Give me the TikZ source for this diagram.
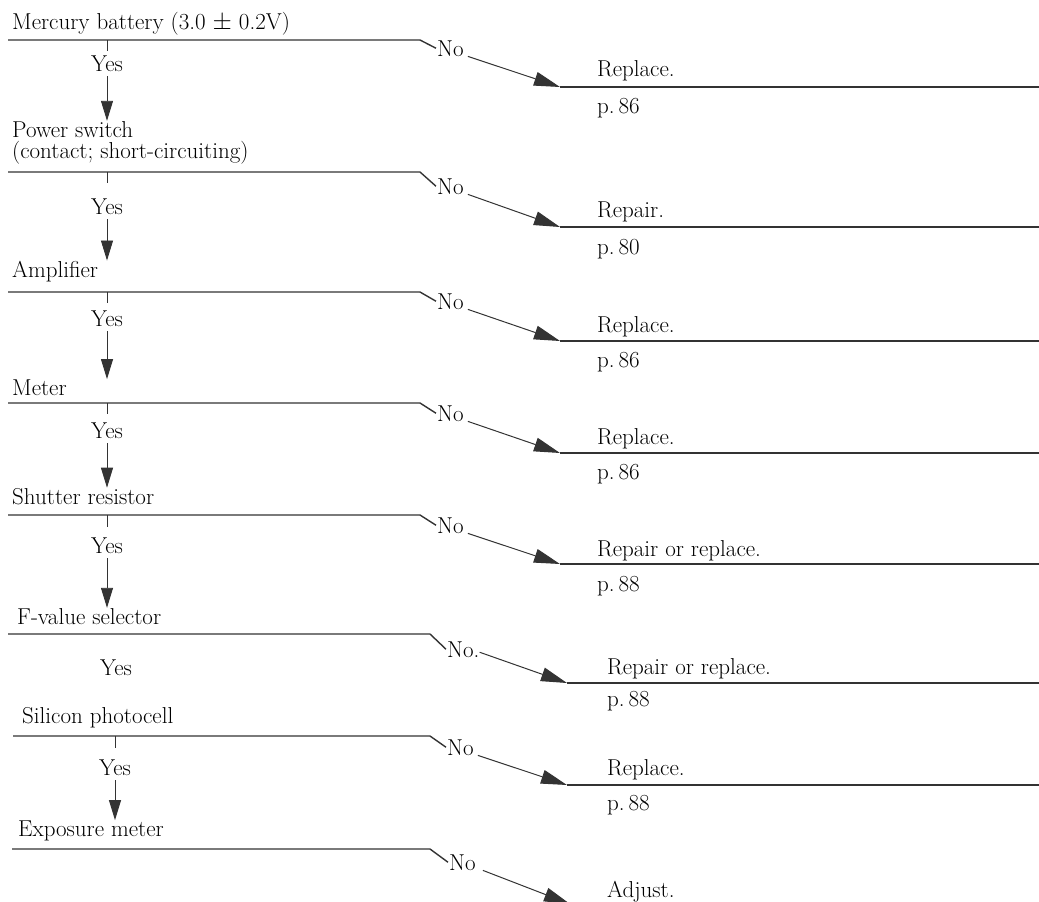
\documentclass[tikz,border=0pt]{standalone}
\usetikzlibrary{arrows.meta}
\tikzset{
  txt/.style={inner sep=0pt, anchor=base west, font=\fontsize{23}{26}\selectfont},
  nolbl/.style={inner sep=1pt, anchor=base west, font=\fontsize{23}{26}\selectfont},
  yeslbl/.style={inner sep=1pt, anchor=base, font=\fontsize{23}{26}\selectfont},
  rule/.style={line width=1.4pt, draw=black!80},
  thin/.style={line width=0.9pt, draw=black!80},
  noarr/.style={line width=1pt, draw=black!80, -{Triangle[length=26pt,width=14pt]}},
  yesarr/.style={line width=0.9pt, draw=black!80, -{Triangle[length=20pt,width=12pt]}},
}
\begin{document}
\begin{tikzpicture}[x=1pt,y=-1pt]
\useasboundingbox (0,0) rectangle (1039,902);
\clip (0,0) rectangle (1039,902);
% ---------- block 1
\node[txt] (t1) at (12,29) {Mercury battery (3.0 $\pm$ 0.2V)};
\coordinate (ls1) at (8,40); \coordinate (le1) at (420,40);
\node[nolbl] (no1) at (436,56) {No};
\draw[rule] (ls1) -- (le1) -- (no1.west);
\coordinate (rs1) at (560,87); \coordinate (re1) at (1039,87);
\draw[noarr] (no1.south east) ++(3,-1) -- (rs1);
\draw[rule] (rs1) -- (re1);
\node[txt] (a1) at (597,76) {Replace.};
\node[txt] (p1) at (597,113) {p.\,86};
\node[yeslbl] (y1) at (107,71) {Yes};
\coordinate (k1) at (107,51);
\draw[thin] (ls1 -| k1) -- (k1);
% ---------- block 2
\node[txt] (t2a) at (12,137) {Power switch};
\node[txt] (t2) at (12,158) {(contact; short-circuiting)};
\draw[yesarr] (y1.south) ++(0,4) -- (y1.south |- t2a.north);
\coordinate (ls2) at (8,172); \coordinate (le2) at (420,172);
\node[nolbl] (no2) at (436,194) {No};
\draw[rule] (ls2) -- (le2) -- (no2.west);
\coordinate (rs2) at (560,227); \coordinate (re2) at (1039,227);
\draw[noarr] (no2.south east) ++(3,-1) -- (rs2);
\draw[rule] (rs2) -- (re2);
\node[txt] (a2) at (597,217) {Repair.};
\node[txt] (p2) at (597,254) {p.\,80};
\node[yeslbl] (y2) at (107,214) {Yes};
\coordinate (k2) at (107,183);
\draw[thin] (ls2 -| k2) -- (k2);
% ---------- block 3
\node[txt] (t3) at (12,277) {Amplifier};
\draw[yesarr] (y2.south) ++(0,4) -- (y2.south |- t3.north);
\coordinate (ls3) at (8,292); \coordinate (le3) at (420,292);
\node[nolbl] (no3) at (436,309) {No};
\draw[rule] (ls3) -- (le3) -- (no3.west);
\coordinate (rs3) at (560,341); \coordinate (re3) at (1039,341);
\draw[noarr] (no3.south east) ++(3,-1) -- (rs3);
\draw[rule] (rs3) -- (re3);
\node[txt] (a3) at (597,332) {Replace.};
\node[txt] (p3) at (597,367) {p.\,86};
\node[yeslbl] (y3) at (107,326) {Yes};
\coordinate (k3) at (107,303);
\draw[thin] (ls3 -| k3) -- (k3);
% ---------- block 4
\node[txt] (t4) at (12,395) {Meter};
\draw[yesarr] (y3.south) ++(0,4) -- (y3.south |- t4.north);
\coordinate (ls4) at (8,403); \coordinate (le4) at (420,403);
\node[nolbl] (no4) at (436,421) {No};
\draw[rule] (ls4) -- (le4) -- (no4.west);
\coordinate (rs4) at (560,453); \coordinate (re4) at (1039,453);
\draw[noarr] (no4.south east) ++(3,-1) -- (rs4);
\draw[rule] (rs4) -- (re4);
\node[txt] (a4) at (597,444) {Replace.};
\node[txt] (p4) at (597,479) {p.\,86};
\node[yeslbl] (y4) at (107,438) {Yes};
\coordinate (k4) at (107,414);
\draw[thin] (ls4 -| k4) -- (k4);
% ---------- block 5
\node[txt] (t5) at (12,504) {Shutter resistor};
\draw[yesarr] (y4.south) ++(0,4) -- (y4.south |- t5.north);
\coordinate (ls5) at (8,515); \coordinate (le5) at (420,515);
\node[nolbl] (no5) at (436,533) {No};
\draw[rule] (ls5) -- (le5) -- (no5.west);
\coordinate (rs5) at (560,564); \coordinate (re5) at (1039,564);
\draw[noarr] (no5.south east) ++(3,-1) -- (rs5);
\draw[rule] (rs5) -- (re5);
\node[txt] (a5) at (597,556) {Repair or replace.};
\node[txt] (p5) at (597,591) {p.\,88};
\node[yeslbl] (y5) at (107,553) {Yes};
\coordinate (k5) at (107,527);
\draw[thin] (ls5 -| k5) -- (k5);
% ---------- block 6
\node[txt] (t6) at (17,624) {F-value selector};
\draw[yesarr] (y5.south) ++(0,4) -- (y5.south |- t6.north);
\coordinate (ls6) at (8,634); \coordinate (le6) at (430,634);
\node[nolbl] (no6) at (446,657) {No.};
\draw[rule] (ls6) -- (le6) -- (no6.west);
\coordinate (rs6) at (567,683); \coordinate (re6) at (1039,683);
\draw[noarr] (no6.east) ++(-1,3) -- (rs6);
\draw[rule] (rs6) -- (re6);
\node[txt] (a6) at (607,674) {Repair or replace.};
\node[txt] (p6) at (607,706) {p.\,88};
\node[yeslbl] (y6) at (116,675) {Yes};
% ---------- block 7
\node[txt] (t7) at (22,723) {Silicon photocell};
\coordinate (ls7) at (13,736); \coordinate (le7) at (430,736);
\node[nolbl] (no7) at (446,755) {No};
\draw[rule] (ls7) -- (le7) -- (no7.west);
\coordinate (rs7) at (567,785); \coordinate (re7) at (1039,785);
\draw[noarr] (no7.south east) ++(3,-1) -- (rs7);
\draw[rule] (rs7) -- (re7);
\node[txt] (a7) at (607,775) {Replace.};
\node[txt] (p7) at (607,810) {p.\,88};
\node[yeslbl] (y7) at (115,775) {Yes};
\coordinate (k7) at (115,748);
\draw[thin] (ls7 -| k7) -- (k7);
% ---------- block 8
\node[txt] (t8) at (18,836) {Exposure meter};
\draw[yesarr] (y7.south) ++(0,4) -- (y7.south |- t8.north);
\coordinate (ls8) at (12,849); \coordinate (le8) at (430,849);
\node[nolbl] (no8) at (448,870) {No};
\draw[rule] (ls8) -- (le8) -- (no8.west);
\coordinate (rs8) at (570,904);
\draw[noarr] (no8.south east) ++(6,-1) -- (rs8);
\node[txt] (a8) at (607,897) {Adjust.};
\end{tikzpicture}
\end{document}
